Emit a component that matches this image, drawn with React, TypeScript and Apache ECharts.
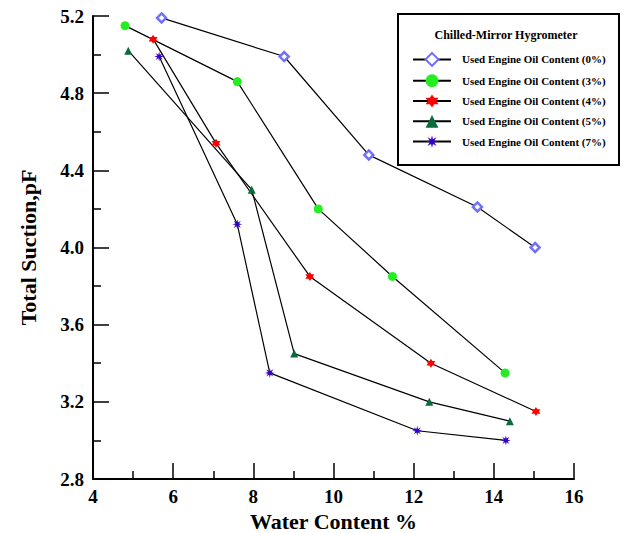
import React, { useEffect, useRef } from "react";
import * as echarts from "echarts";

const seriesNames = [
  "Used Engine Oil Content (0%)",
  "Used Engine Oil Content (3%)",
  "Used Engine Oil Content (4%)",
  "Used Engine Oil Content (5%)",
  "Used Engine Oil Content (7%)",
];

const water0 = [5.71, 8.77, 10.88, 13.59, 15.03];
const suction0 = [5.19, 4.99, 4.48, 4.21, 4.0];

const water3 = [4.8, 7.6, 9.62, 11.47, 14.28];
const suction3 = [5.15, 4.86, 4.2, 3.85, 3.35];

const water4 = [5.5, 7.07, 9.41, 12.43, 15.05];
const suction4 = [5.08, 4.54, 3.85, 3.4, 3.15];

const water5 = [4.88, 7.96, 9.02, 12.39, 14.4];
const suction5 = [5.02, 4.3, 3.45, 3.2, 3.1];

const water7 = [5.65, 7.6, 8.41, 12.09, 14.3];
const suction7 = [4.99, 4.12, 3.35, 3.05, 3.0];

const xTicks = [4, 6, 8, 10, 12, 14, 16];
const yTicks = [2.8, 3.2, 3.6, 4.0, 4.4, 4.8, 5.2];

const FONT = "Liberation Serif";

const hexStar =
  "path://M10 0 L12.89 5 L18.66 5 L15.77 10 L18.66 15 L12.89 15 L10 20 L7.11 15 L1.34 15 L4.23 10 L1.34 5 L7.11 5 Z";
const burst =
  "path://M10 0 L11.53 6.3 L17.07 2.93 L13.7 8.47 L20 10 L13.7 11.53 L17.07 17.07 L11.53 13.7 L10 20 L8.47 13.7 L2.93 17.07 L6.3 11.53 L0 10 L6.3 8.47 L2.93 2.93 L8.47 6.3 Z";

const zip = (xs: number[], ys: number[]) => xs.map((x, i) => [x, ys[i]]);

export default function App() {
  const ref = useRef<HTMLDivElement>(null);
  useEffect(() => {
    if (!ref.current) return;
    const chart = echarts.init(ref.current, null, { renderer: "svg" });
    const lineStyle = { color: "#000", width: 1.2 };
    const mk = (
      name: string,
      xs: number[],
      ys: number[],
      symbol: string,
      size: number,
      itemStyle: any
    ) => ({
      name,
      type: "line",
      data: zip(xs, ys),
      symbol,
      symbolSize: size,
      showAllSymbol: true,
      lineStyle,
      itemStyle,
      z: 3,
    });
    chart.setOption({
      animation: false,
      backgroundColor: "#fff",
      textStyle: { fontFamily: FONT },
      grid: { left: 93, right: 50, top: 16, bottom: 54, containLabel: false, outerBoundsMode: "none" },
      xAxis: {
        type: "value",
        min: xTicks[0],
        max: xTicks[xTicks.length - 1],
        interval: 2,
        name: "Water Content %",
        nameLocation: "middle",
        nameGap: 31,
        nameMoveOverlap: false,
        nameTextStyle: { fontFamily: FONT, fontWeight: "bold", fontSize: 22, color: "#000" },
        axisLine: { lineStyle: { color: "#000", width: 2 } },
        axisTick: { inside: true, length: 16, lineStyle: { color: "#000", width: 1.5 } },
        minorTick: { show: true, splitNumber: 2, length: 8, lineStyle: { color: "#000", width: 1.5 } },
        splitLine: { show: false },
        axisLabel: { fontFamily: FONT, fontWeight: "bold", fontSize: 19, color: "#000", margin: 8 },
      },
      yAxis: {
        type: "value",
        min: yTicks[0],
        max: yTicks[yTicks.length - 1],
        interval: 0.4,
        name: "Total Suction,pF",
        nameLocation: "middle",
        nameGap: 54,
        nameMoveOverlap: false,
        nameTextStyle: { fontFamily: FONT, fontWeight: "bold", fontSize: 22, color: "#000" },
        axisLine: { show: true, lineStyle: { color: "#000", width: 2 } },
        axisTick: { show: true, inside: true, length: 16, lineStyle: { color: "#000", width: 1.5 } },
        minorTick: { show: true, splitNumber: 2, length: 8, lineStyle: { color: "#000", width: 1.5 } },
        splitLine: { show: false },
        axisLabel: {
          fontFamily: FONT,
          fontWeight: "bold",
          fontSize: 19,
          color: "#000",
          margin: 9,
          formatter: (v: number) => v.toFixed(1),
        },
      },
      legend: {
        orient: "vertical",
        left: 412,
        top: 52,
        padding: 0,
        itemWidth: 38,
        itemHeight: 16,
        itemGap: 7.5,
        z: 10,
        textStyle: { fontFamily: FONT, fontWeight: "bold", fontSize: 11, color: "#000", padding: [0, 0, 0, 6] },
        data: seriesNames,
      },
      graphic: [
        {
          type: "rect",
          left: 397,
          top: 13,
          z: 5,
          shape: { width: 221, height: 151 },
          style: { fill: "#fff", stroke: "#000", lineWidth: 2 },
        },
        {
          type: "text",
          x: 506,
          y: 35,
          z: 6,
          style: {
            text: "Chilled-Mirror Hygrometer",
            font: `bold 12px "${FONT}"`,
            fill: "#000",
            align: "center",
            verticalAlign: "middle",
          },
        },
      ],
      series: [
        mk(seriesNames[0], water0, suction0, "diamond", 9, {
          color: "#ffffff",
          borderColor: "#7070ff",
          borderWidth: 2.5,
        }),
        mk(seriesNames[1], water3, suction3, "circle", 9, { color: "#22ee22" }),
        mk(seriesNames[2], water4, suction4, hexStar, 9, { color: "#ff0000" }),
        mk(seriesNames[3], water5, suction5, "triangle", 8, { color: "#0a6b3c" }),
        mk(seriesNames[4], water7, suction7, burst, 10, { color: "#3300cc" }),
      ],
    });
    return () => chart.dispose();
  }, []);
  return (
    <div
      ref={ref}
      style={{ position: "fixed", left: 0, top: 0, width: 624, height: 533 }}
    />
  );
}
